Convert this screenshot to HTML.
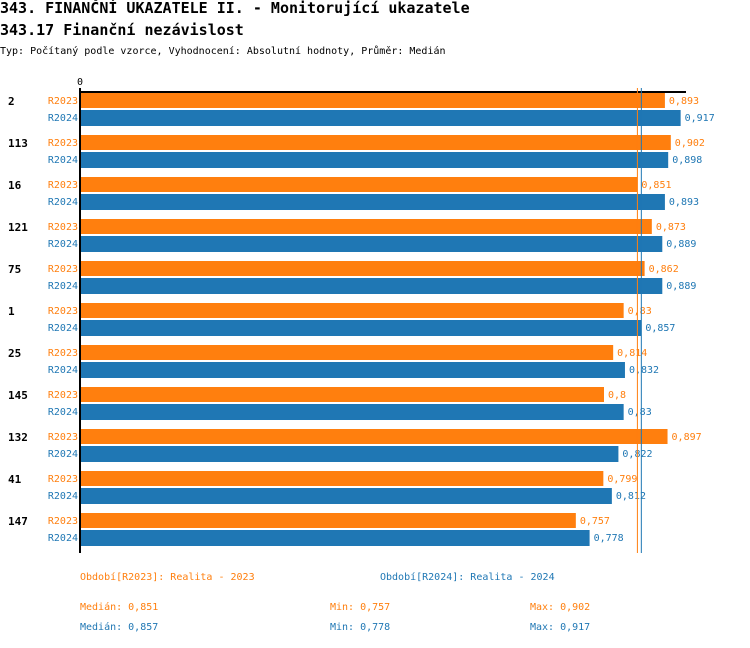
<!DOCTYPE html>
<html><head><meta charset="utf-8"><style>
body{margin:0;background:#fff;width:750px;height:644px;overflow:hidden;font-family:"DejaVu Sans Mono","Liberation Mono",monospace}
svg text{font-family:"DejaVu Sans Mono","Liberation Mono",monospace}
</style></head><body>
<svg id="c" width="750" height="644">
<text x="0" y="13" font-size="15" font-weight="bold">343. FINANČNÍ UKAZATELE II. - Monitorující ukazatele</text>
<text x="0" y="35" font-size="15" font-weight="bold">343.17 Finanční nezávislost</text>
<text x="0" y="54" font-size="10">Typ: Počítaný podle vzorce, Vyhodnocení: Absolutní hodnoty, Průměr: Medián</text>
<g id="bars"></g>
<text x="80" y="580" font-size="10" fill="#ff7f0e">Období[R2023]: Realita - 2023</text>
<text x="380" y="580" font-size="10" fill="#1f77b4">Období[R2024]: Realita - 2024</text>
<text x="80" y="610" font-size="10" fill="#ff7f0e">Medián: 0,851</text>
<text x="330" y="610" font-size="10" fill="#ff7f0e">Min: 0,757</text>
<text x="530" y="610" font-size="10" fill="#ff7f0e">Max: 0,902</text>
<text x="80" y="630" font-size="10" fill="#1f77b4">Medián: 0,857</text>
<text x="330" y="630" font-size="10" fill="#1f77b4">Min: 0,778</text>
<text x="530" y="630" font-size="10" fill="#1f77b4">Max: 0,917</text>
</svg>
<script>
const categories=["2","113","16","121","75","1","25","145","132","41","147"];
const r2023=[0.893,0.902,0.851,0.873,0.862,0.83,0.814,0.8,0.897,0.799,0.757];
const r2024=[0.917,0.898,0.893,0.889,0.889,0.857,0.832,0.83,0.822,0.812,0.778];
const median2023=0.851, median2024=0.857;
const NS="http://www.w3.org/2000/svg";
const g=document.getElementById('bars');
const X0=80,K=655;
const x=v=>X0+v*K;
function mk(t,a){const e=document.createElementNS(NS,t);for(const k in a)e.setAttribute(k,a[k]);g.appendChild(e);return e;}
const fmt=v=>String(v).replace('.',',');
const cols=["#ff7f0e","#1f77b4"],names=["R2023","R2024"];
categories.forEach((c,i)=>{
  const top=93+i*42;
  let t=mk('text',{x:8,y:top+12,'font-size':11,'font-weight':'bold'});t.textContent=c;
  
  
  [r2023[i],r2024[i]].forEach((v,j)=>{
    const y=top+j*17;
    let l=mk('text',{x:78,y:y+11,'font-size':10,fill:cols[j],'text-anchor':'end'});l.textContent=names[j];
    
    
    let r=mk('rect',{x:X0,y:y,width:x(v)-X0,height:j?16:15,fill:cols[j]});
    
    
    let vt=mk('text',{x:x(v)+4,y:y+11,'font-size':10,fill:cols[j]});vt.textContent=fmt(v);
    
    
  });
});
let a=mk('line',{x1:X0,x2:686,y1:92,y2:92,stroke:'#000','stroke-width':2});


let v=mk('line',{x1:X0,x2:X0,y1:88,y2:553,stroke:'#000','stroke-width':2});


let z=mk('text',{x:X0,y:85,'font-size':10,'text-anchor':'middle'});z.textContent='0';


let m1=mk('line',{x1:x(median2023),x2:x(median2023),y1:88,y2:553,stroke:'#ff7f0e','stroke-width':1});


let m2=mk('line',{x1:x(median2024),x2:x(median2024),y1:88,y2:553,stroke:'#1f77b4','stroke-width':1});


</script>
</body></html>
